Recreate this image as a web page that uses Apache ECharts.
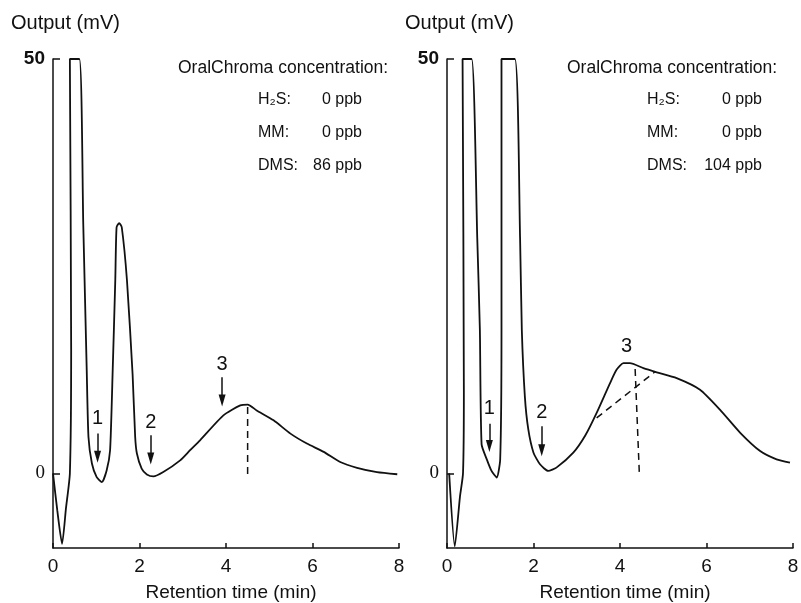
<!DOCTYPE html>
<html>
<head>
<meta charset="utf-8">
<title>OralChroma chromatograms</title>
<script src="https://cdn.jsdelivr.net/npm/echarts@6/dist/echarts.min.js"></script>
<style>
  html, body { margin: 0; padding: 0; background: #fff; }
  #main { width: 801px; height: 603px; }
</style>
</head>
<body>
<div id="main"></div>
<script>
// chromatogram traces, [retention time (min), output (mV)]
var leftCurve = [
  [0, 0], [0.1, -4.5], [0.21, -8.5], [0.3, -4.2], [0.39, 0], [0.42, 15], [0.39, 50],
  [0.61, 50], [0.7, 30], [0.78, 12.4], [0.82, 4.4], [0.9, 1.2], [1.01, -0.45], [1.13, -1.05],
  [1.24, 0.36], [1.32, 2.8], [1.38, 12.4], [1.44, 23.3], [1.47, 29.7], [1.53, 30.2],
  [1.59, 29.7], [1.71, 23.3], [1.84, 12], [1.9, 4.4], [1.94, 2.4], [2.05, 0.57],
  [2.17, -0.12], [2.32, -0.36], [2.55, 0.16], [2.94, 1.57], [3.17, 2.8], [3.4, 4.0],
  [3.94, 7.0], [4.33, 8.2], [4.5, 8.3], [4.71, 7.6], [5.1, 6.4], [5.49, 4.8], [5.87, 3.6],
  [6.26, 2.6], [6.64, 1.37], [7.03, 0.68], [7.49, 0.16], [7.96, -0.1]
];
var rightCurve = [
  [0.05, 0], [0.18, -8.8], [0.3, -2.8], [0.37, 0], [0.39, 10], [0.36, 50], [0.57, 50],
  [0.7, 28.3], [0.76, 17.3], [0.8, 3.5], [0.92, 1.7], [1.03, 0.3], [1.15, -0.5], [1.23, 1.7],
  [1.26, 17.3], [1.26, 50], [1.57, 50], [1.69, 28.3], [1.73, 17.3], [1.8, 9.3], [1.88, 5.3],
  [2.0, 2.5], [2.15, 1.1], [2.34, 0.3], [2.53, 0.7], [2.92, 2.5], [3.2, 4.6], [3.46, 7.3],
  [3.77, 10.9], [3.92, 12.5], [4.08, 13.3], [4.23, 13.3], [4.54, 12.7], [4.85, 12.2],
  [5.31, 11.5], [5.85, 10.1], [6.31, 7.7], [6.78, 4.9], [7.24, 2.7], [7.62, 1.7], [7.93, 1.3]
];

// dashed construction lines
var leftPeakDrop = [[4.5, 8.0], [4.5, -0.6]];
var rightTangent = [[3.46, 6.7], [4.82, 12.3]];
var rightPeakDrop = [[4.35, 12.6], [4.45, -0.4]];

// peak markers: [x, label y, arrow tail y, arrow tip y, text]
var leftMarkers = [
  [1.03, 6.6, 4.8, 1.3, '1'],
  [2.26, 6.2, 4.6, 1.1, '2'],
  [3.91, 13.2, 11.6, 8.1, '3']
];
var rightMarkers = [
  [0.98, 7.8, 6.0, 2.6, '1'],
  [2.19, 7.3, 5.7, 2.1, '2']
];
var rightPeakLabel = [[4.15, 15.3, '3']];

var xTicks = [0, 2, 4, 6, 8];
var yTicks = [0, 50];

var leftConc = [['H\u2082S:', '0 ppb'], ['MM:', '0 ppb'], ['DMS:', '86 ppb']];
var rightConc = [['H\u2082S:', '0 ppb'], ['MM:', '0 ppb'], ['DMS:', '104 ppb']];

var sans = 'Liberation Sans, Arial, sans-serif';
var ink = '#111';

function xAxisFor(i) {
  return {
    type: 'value', gridIndex: i, min: 0, max: 8, interval: 2,
    name: 'Retention time (min)', nameLocation: 'middle', nameGap: 35, nameMoveOverlap: false,
    nameTextStyle: { color: ink, fontSize: 19, fontFamily: sans, padding: [0, 0, 0, 10] },
    axisLine: { show: true, onZero: false, lineStyle: { color: ink, width: 1.5 } },
    axisTick: { show: true, inside: true, length: 5, lineStyle: { color: ink, width: 1.5 } },
    axisLabel: { color: ink, fontSize: 19, fontFamily: sans, margin: 9,
      formatter: function (v) { return xTicks.indexOf(v) >= 0 ? String(v) : ''; } },
    splitLine: { show: false }
  };
}

function yAxisFor(i) {
  return {
    type: 'value', gridIndex: i, min: -9, max: 50,
    axisLine: { show: true, onZero: false, lineStyle: { color: ink, width: 1.5 } },
    axisTick: { show: true, inside: true, length: 7, customValues: yTicks,
      lineStyle: { color: ink, width: 1.5 } },
    axisLabel: { show: true, customValues: yTicks, margin: 8,
      formatter: function (v) { return v === 50 ? '{b|50}' : '{s|0}'; },
      rich: {
        b: { color: ink, fontSize: 19, fontWeight: 'bold', fontFamily: sans },
        s: { color: ink, fontSize: 19, fontFamily: 'Liberation Serif, serif' }
      } },
    splitLine: { show: false }
  };
}

function curveSeries(i, data) {
  return {
    type: 'line', xAxisIndex: i, yAxisIndex: i, data: data, symbol: 'none',
    smooth: 0.2, clip: false, silent: true, lineStyle: { color: ink, width: 1.8 }
  };
}

function dashSeries(i, data) {
  return {
    type: 'line', xAxisIndex: i, yAxisIndex: i, data: data, symbol: 'none',
    clip: false, silent: true, lineStyle: { color: ink, width: 1.5, type: [7, 5] }
  };
}

var labelStyle = { show: true, position: 'inside', color: ink, fontSize: 20, fontFamily: sans,
  formatter: function (p) { return p.value[2]; } };

function markerSeries(i, markers) {
  return {
    type: 'scatter', xAxisIndex: i, yAxisIndex: i, symbolSize: 0, silent: true,
    itemStyle: { color: ink, opacity: 1 },
    data: markers.map(function (m) { return [m[0], m[1], m[4]]; }),
    label: labelStyle,
    markLine: {
      silent: true, symbol: ['none', 'triangle'], symbolSize: [7, 12],
      label: { show: false },
      itemStyle: { color: ink, opacity: 1 },
      lineStyle: { color: ink, width: 1.5, type: 'solid', opacity: 1 },
      data: markers.map(function (m) {
        // arrow head is centred on the end point, so pull it back half its length
        return [{ coord: [m[0], m[2]] }, { coord: [m[0], m[3] + 0.7] }];
      })
    }
  };
}

function concText(left, valueRight, top, rows) {
  var out = [{
    type: 'text', x: left - 80, y: top,
    style: { text: 'OralChroma concentration:', fill: ink, font: '17.5px ' + sans,
      align: 'left', verticalAlign: 'middle' }
  }];
  rows.forEach(function (r, k) {
    var y = top + 32 + k * 33;
    out.push({ type: 'text', x: left, y: y,
      style: { text: r[0], fill: ink, font: '16px ' + sans, align: 'left', verticalAlign: 'middle' } });
    out.push({ type: 'text', x: valueRight, y: y,
      style: { text: r[1], fill: ink, font: '16px ' + sans, align: 'right', verticalAlign: 'middle' } });
  });
  return out;
}

var graphics = [
  { type: 'text', x: 11, y: 23, style: { text: 'Output (mV)', fill: ink, font: '20px ' + sans,
    align: 'left', verticalAlign: 'middle' } },
  { type: 'text', x: 405, y: 23, style: { text: 'Output (mV)', fill: ink, font: '20px ' + sans,
    align: 'left', verticalAlign: 'middle' } }
].concat(concText(258, 362, 68, leftConc), concText(647, 762, 68, rightConc));

var option = {
  animation: false,
  backgroundColor: '#fff',
  grid: [
    { left: 53, top: 59, width: 346, height: 489, outerBoundsMode: 'none', containLabel: false },
    { left: 447, top: 59, width: 346, height: 489, outerBoundsMode: 'none', containLabel: false }
  ],
  xAxis: [xAxisFor(0), xAxisFor(1)],
  yAxis: [yAxisFor(0), yAxisFor(1)],
  graphic: graphics,
  series: [
    curveSeries(0, leftCurve),
    dashSeries(0, leftPeakDrop),
    markerSeries(0, leftMarkers),
    curveSeries(1, rightCurve),
    dashSeries(1, rightTangent),
    dashSeries(1, rightPeakDrop),
    markerSeries(1, rightMarkers),
    {
      type: 'scatter', xAxisIndex: 1, yAxisIndex: 1, symbolSize: 0, silent: true,
      itemStyle: { color: ink, opacity: 1 },
      data: rightPeakLabel,
      label: labelStyle
    }
  ]
};

var chart = echarts.init(document.getElementById('main'));
chart.setOption(option);
</script>
</body>
</html>
